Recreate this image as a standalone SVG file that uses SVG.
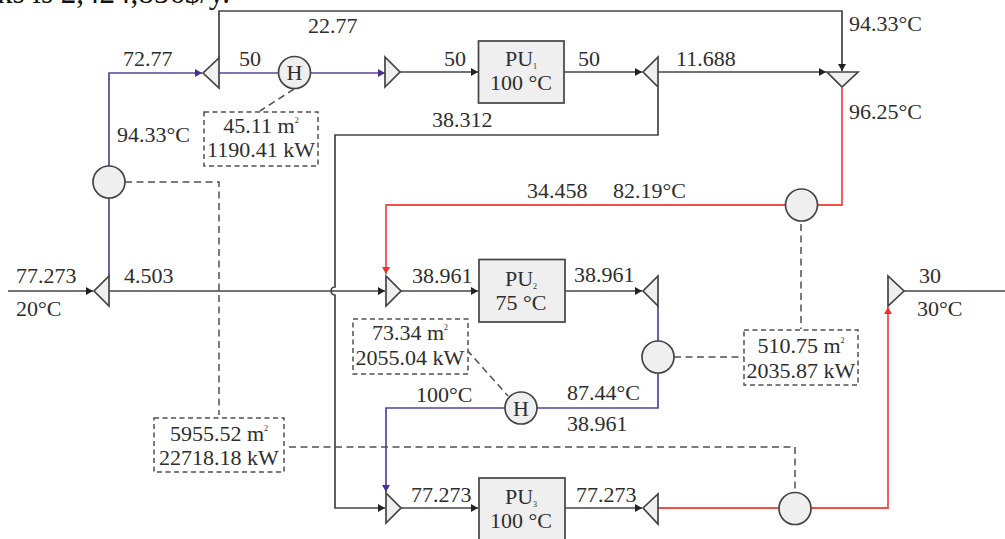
<svg xmlns="http://www.w3.org/2000/svg" width="1005" height="539" viewBox="0 0 1005 539">
<style>
text{font-family:"Liberation Serif","Times New Roman",serif;font-size:22px;fill:#2e2e2e}
.m{text-anchor:middle}
.sup{font-size:8px}
.k,.b,.r,.d{fill:none}
.k{stroke:#444;stroke-width:1.7}
.b{stroke:#5a4398;stroke-width:1.7}
.r{stroke:#f0504a;stroke-width:1.8}
.d{stroke:#505050;stroke-width:1.5;stroke-dasharray:7 4.5}
.n{fill:#efefef;stroke:#444;stroke-width:1.7}
.box{fill:#fff;stroke:#505050;stroke-width:1.5;stroke-dasharray:5 3.5}
</style>
<defs>
<marker id="ak" markerUnits="userSpaceOnUse" markerWidth="8" markerHeight="8" refX="7" refY="4" orient="auto"><path d="M0 0L7 4L0 8Z" fill="#222"/></marker>
<marker id="ab" markerUnits="userSpaceOnUse" markerWidth="8" markerHeight="8" refX="7" refY="4" orient="auto"><path d="M0 0L7 4L0 8Z" fill="#4a2f90"/></marker>
<marker id="ar" markerUnits="userSpaceOnUse" markerWidth="8" markerHeight="8" refX="7" refY="4" orient="auto"><path d="M0 0L7 4L0 8Z" fill="#f0302a"/></marker>
</defs>
<text x="-3" y="3" style="font-size:31px;fill:#111">ks is 2,424,856$/y.</text>
<g id="connectors">
<path class="k" d="M219 58V11H842V71" marker-end="url(#ak)"/>
<path class="b" d="M109 167V73H202" marker-end="url(#ab)"/>
<path class="b" d="M219 73H385" marker-end="url(#ab)"/>
<path class="k" d="M400 72H478" marker-end="url(#ak)"/>
<path class="k" d="M564 72H642" marker-end="url(#ak)"/>
<path class="k" d="M658 72H826" marker-end="url(#ak)"/>
<path class="r" d="M842 88V205H386V274" marker-end="url(#ar)"/>
<path class="k" d="M658 88V135H335V287a4 4 0 0 0 0 8V508H385" marker-end="url(#ak)"/>
<path class="k" d="M8 291H93" marker-end="url(#ak)"/>
<path class="b" d="M109 197V276"/>
<path class="k" d="M109 291H385" marker-end="url(#ak)"/>
<path class="k" d="M401 291H478" marker-end="url(#ak)"/>
<path class="k" d="M565 291H642" marker-end="url(#ak)"/>
<path class="b" d="M658 306V408H386V492" marker-end="url(#ab)"/>
<path class="k" d="M401 508H478" marker-end="url(#ak)"/>
<path class="k" d="M565 508H642" marker-end="url(#ak)"/>
<path class="r" d="M658 508H888V307" marker-end="url(#ar)"/>
<path class="k" d="M904 291H1005"/>
<path class="d" d="M125 182H219V415"/>
<path class="d" d="M294 89L260 111"/>
<path class="d" d="M801 224V329"/>
<path class="d" d="M674 357H744"/>
<path class="d" d="M467 350L508 396"/>
<path class="d" d="M289 447H795V492"/>
</g>
<g id="splitter-1"><path class="n" d="M219 58V88L203 73Z"/></g>
<g id="heater-1"><circle class="n" cx="294.500" cy="72.500" r="16"/><text class="m" x="294.500" y="80">H</text></g>
<g id="mixer-pu1"><path class="n" d="M385 57V87L400 72Z"/></g>
<g id="pu1"><rect class="n" x="478.500" y="41" width="85.500" height="62"/><text class="m" x="521" y="66">PU<tspan class="sup" dy="3">1</tspan></text><text class="m" x="521" y="90">100 °C</text></g>
<g id="splitter-2"><path class="n" d="M658 57V87L643 72Z"/></g>
<g id="mixer-top"><path class="n" d="M827 72H858L842 87Z"/></g>
<g id="cooler-top"><circle class="n" cx="801.500" cy="205" r="16"/></g>
<g id="exchanger-1"><circle class="n" cx="109" cy="182" r="16"/></g>
<g id="splitter-in"><path class="n" d="M109 276V306L94 291Z"/></g>
<g id="mixer-pu2"><path class="n" d="M386 276V306L401 291Z"/></g>
<g id="pu2"><rect class="n" x="479" y="259.500" width="86" height="62.500"/><text class="m" x="521" y="286">PU<tspan class="sup" dy="3">2</tspan></text><text class="m" x="521" y="310">75 °C</text></g>
<g id="splitter-3"><path class="n" d="M658 276V306L643 291Z"/></g>
<g id="exchanger-2"><circle class="n" cx="658" cy="357" r="16"/></g>
<g id="heater-2"><circle class="n" cx="521" cy="408" r="16"/><text class="m" x="521" y="415.500">H</text></g>
<g id="mixer-pu3"><path class="n" d="M386 493V523L401 508Z"/></g>
<g id="pu3"><rect class="n" x="479" y="478" width="86" height="64"/><text class="m" x="521" y="504">PU<tspan class="sup" dy="3">3</tspan></text><text class="m" x="521" y="528">100 °C</text></g>
<g id="splitter-4"><path class="n" d="M658 494V524L643 508Z"/></g>
<g id="exchanger-3"><circle class="n" cx="795" cy="508.500" r="16"/></g>
<g id="mixer-out"><path class="n" d="M888 276V306L904 291Z"/></g>
<g id="box-1"><rect class="box" x="204" y="112" width="114" height="54"/><text class="m" x="261" y="132.500">45.11 m<tspan class="sup" dy="-10">2</tspan></text><text class="m" x="261" y="157">1190.41 kW</text></g>
<g id="box-2"><rect class="box" x="154" y="418" width="130" height="54"/><text class="m" x="219" y="441">5955.52 m<tspan class="sup" dy="-10">2</tspan></text><text class="m" x="219" y="465">22718.18 kW</text></g>
<g id="box-3"><rect class="box" x="353" y="319" width="115" height="55"/><text class="m" x="410" y="340">73.34 m<tspan class="sup" dy="-10">2</tspan></text><text class="m" x="410" y="365">2055.04 kW</text></g>
<g id="box-4"><rect class="box" x="744" y="330" width="114" height="55"/><text class="m" x="801" y="353">510.75 m<tspan class="sup" dy="-10">2</tspan></text><text class="m" x="801" y="378">2035.87 kW</text></g>
<g id="labels">
<text x="308" y="33">22.77</text>
<text x="849" y="31">94.33°C</text>
<text x="123" y="66">72.77</text>
<text x="239" y="66">50</text>
<text x="444" y="66">50</text>
<text x="578" y="66">50</text>
<text x="676" y="66">11.688</text>
<text x="849" y="119">96.25°C</text>
<text x="117" y="142">94.33°C</text>
<text x="432" y="127">38.312</text>
<text x="527" y="198">34.458</text>
<text x="613" y="198">82.19°C</text>
<text x="16" y="283">77.273</text>
<text x="124" y="283">4.503</text>
<text x="16" y="316">20°C</text>
<text x="412" y="283">38.961</text>
<text x="574" y="282">38.961</text>
<text x="919" y="283">30</text>
<text x="917" y="316">30°C</text>
<text x="416" y="402">100°C</text>
<text x="567" y="400">87.44°C</text>
<text x="567" y="431">38.961</text>
<text x="411" y="502">77.273</text>
<text x="576" y="502">77.273</text>
</g>
</svg>
